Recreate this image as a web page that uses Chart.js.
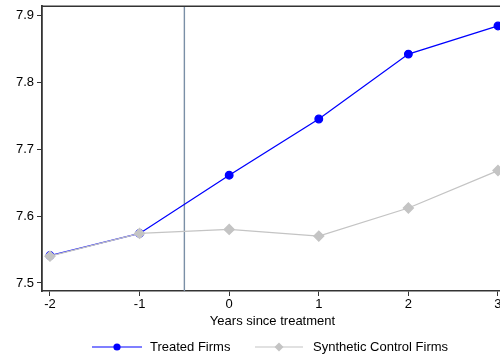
<!DOCTYPE html>
<html><head><meta charset="utf-8">
<script src="https://cdn.jsdelivr.net/npm/chart.js@4/dist/chart.umd.min.js"></script>
<style>html,body{margin:0;padding:0;background:#fff;overflow:hidden}#wrap{width:500px;height:360px;overflow:hidden}</style>
</head><body><div id="wrap"><canvas id="c" width="520" height="360"></canvas></div>
<script>
const years = [-2, -1, 0, 1, 2, 3];
const treated = [7.541, 7.574, 7.661, 7.745, 7.842, 7.884];
const synthetic = [7.540, 7.574, 7.580, 7.570, 7.612, 7.668];
const yTicks = [7.5, 7.6, 7.7, 7.8, 7.9];
const treatmentLine = -0.5;
const labels = ['Treated Firms', 'Synthetic Control Firms'];
const FONT = '"Liberation Sans", Arial, Helvetica, sans-serif';
const AX = '#333333';

const extras = {
  id: 'extras',
  beforeDatasetsDraw(chart) {
    const {ctx, chartArea: a, scales: {x}} = chart;
    const px = x.getPixelForValue(treatmentLine);
    ctx.save();
    ctx.strokeStyle = '#7a8fa6';
    ctx.lineWidth = 1.4;
    ctx.beginPath(); ctx.moveTo(px, a.top); ctx.lineTo(px, a.bottom); ctx.stroke();
    ctx.restore();
  },
  afterDraw(chart) {
    const {ctx, chartArea: a} = chart;
    ctx.save();
    ctx.strokeStyle = AX; ctx.lineWidth = 1.5;
    ctx.beginPath(); ctx.moveTo(a.left, a.top); ctx.lineTo(a.right, a.top); ctx.stroke();
    // legend
    const y = 347;
    ctx.font = '13px ' + FONT; ctx.fillStyle = '#000'; ctx.textBaseline = 'middle';
    ctx.strokeStyle = '#0000ff'; ctx.lineWidth = 1.2;
    ctx.beginPath(); ctx.moveTo(92, y); ctx.lineTo(142, y); ctx.stroke();
    ctx.fillStyle = '#0000ff'; ctx.beginPath(); ctx.arc(117, y, 3.6, 0, Math.PI*2); ctx.fill();
    ctx.fillStyle = '#000'; ctx.fillText(labels[0], 150, y);
    ctx.strokeStyle = '#c4c4c4';
    ctx.beginPath(); ctx.moveTo(255, y); ctx.lineTo(303, y); ctx.stroke();
    ctx.fillStyle = '#c4c4c4'; ctx.beginPath();
    ctx.moveTo(279, y-4.5); ctx.lineTo(283.5, y); ctx.lineTo(279, y+4.5); ctx.lineTo(274.5, y); ctx.closePath(); ctx.fill();
    ctx.fillStyle = '#000'; ctx.fillText(labels[1], 313, y);
    ctx.restore();
  }
};

new Chart(document.getElementById('c'), {
  type: 'line',
  data: {
    datasets: [
      {label: labels[0], data: years.map((v,i)=>({x:v,y:treated[i]})), borderColor:'#0000ff', backgroundColor:'#0000ff',
       borderWidth:1.3, pointRadius:3.8, pointStyle:'circle', order:1, tension:0},
      {label: labels[1], data: years.map((v,i)=>({x:v,y:synthetic[i]})), borderColor:'#c4c4c4', backgroundColor:'#c4c4c4',
       borderWidth:1.3, pointRadius:5, pointStyle:'rectRot', order:0, tension:0}
    ]
  },
  options: {
    responsive:false, animation:false, devicePixelRatio:1,
    layout:{padding:{top:6,right:17,bottom:31,left:0}},
    plugins:{legend:{display:false}, tooltip:{enabled:false}},
    scales:{
      x:{type:'linear', min:-2.089, max:3.056,
         afterBuildTicks(s){ s.ticks = years.map(v=>({value:v})); },
         afterFit(s){ s.height = 38; },
         grid:{display:true, drawOnChartArea:false, drawTicks:true, tickLength:5, color:AX, lineWidth:1},
         border:{display:true, color:AX, width:1.5},
         ticks:{color:'#000', font:{family:FONT, size:13}, padding:1, maxRotation:0, autoSkip:false},
         title:{display:true, text:'Years since treatment', color:'#000', font:{family:FONT, size:13}, padding:{top:0,bottom:0}}
      },
      y:{type:'linear', min:7.488, max:7.9134,
         afterBuildTicks(s){ s.ticks = yTicks.map(v=>({value:v})); },
         afterFit(s){ s.width = 42; s.paddingTop = 0; s.paddingBottom = 0; },
         grid:{display:true, drawOnChartArea:false, drawTicks:true, tickLength:5, color:AX, lineWidth:1},
         border:{display:true, color:AX, width:1.8},
         ticks:{color:'#000', font:{family:FONT, size:13}, padding:3, callback:v=>v.toFixed(1)}
      }
    }
  },
  plugins:[extras]
});
</script></body></html>
